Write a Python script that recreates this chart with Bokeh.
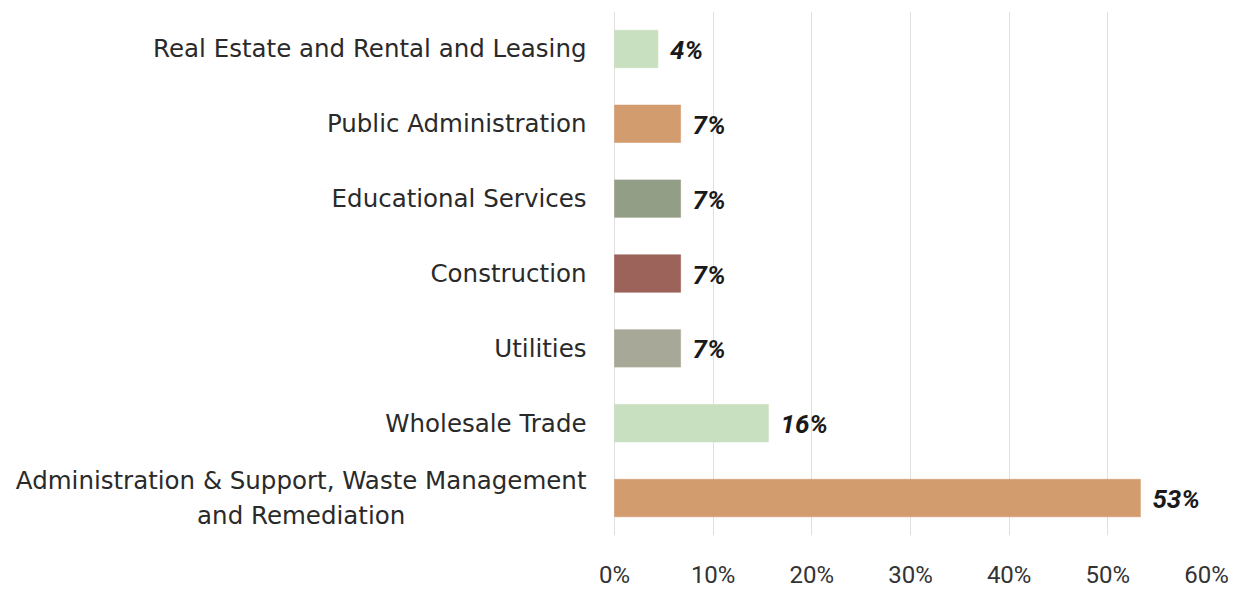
from bokeh.plotting import figure
from bokeh.models import ColumnDataSource, Range1d, FactorRange, FixedTicker
from bokeh.core.properties import value
from bokeh.embed import file_html
from bokeh.resources import INLINE

categories = [
    "Real Estate and Rental and Leasing",
    "Public Administration",
    "Educational Services",
    "Construction",
    "Utilities",
    "Wholesale Trade",
    "Administration & Support, Waste Management\nand Remediation",
]
shares = [4.4, 6.7, 6.7, 6.7, 6.7, 15.6, 53.3]
share_labels = ["4%", "7%", "7%", "7%", "7%", "16%", "53%"]
colors = ["#c8dfc0", "#d39c6f", "#929f86", "#9b6359", "#a8a898", "#c8dfc0", "#d39c6f"]
x_ticks = [0, 10, 20, 30, 40, 50, 60]
x_tick_labels = ["0%", "10%", "20%", "30%", "40%", "50%", "60%"]

src = ColumnDataSource(dict(cat=categories, share=shares, lab=share_labels, color=colors))

# frame spans the full width so the category labels (drawn as text glyphs) are not clipped;
# the x range start is chosen so that 0% sits 614px from the left edge
X_MAX = 60
LEFT_PX = 614
FRAME_RIGHT_PX = 1206
x_start = -LEFT_PX * X_MAX / (FRAME_RIGHT_PX - LEFT_PX)

p = figure(width=1236, height=591, output_backend="svg", toolbar_location=None,
           y_range=FactorRange(factors=categories[::-1]), x_range=Range1d(x_start, X_MAX),
           min_border_left=0, min_border_right=30, min_border_top=11, min_border_bottom=53)
p.outline_line_color = None
p.background_fill_color = "white"
p.border_fill_color = "white"

p.hbar(y="cat", left=0, right="share", height=0.5, fill_color="color",
       line_color="color", line_alpha=0.6, source=src)

p.text(x=0, y="cat", text="cat", source=src, x_offset=-28, anchor="center_right",
       text_align="center", text_baseline="middle", text_font=value("DejaVu Sans"),
       text_font_size="24.5px", text_color="#2a2a2a", text_line_height=1.2)

p.text(x="share", y="cat", text="lab", source=src, x_offset=12, y_offset=1, text_align="left",
       text_baseline="middle", text_font=value("Roboto"), text_font_style="bold italic",
       text_font_size="26px", text_color="#1a1a1a")

p.yaxis.visible = False
p.ygrid.visible = False

p.xgrid.grid_line_color = "#e0e0e0"
p.xgrid.grid_line_width = 1
p.xaxis.ticker = FixedTicker(ticks=x_ticks)
p.xaxis.major_label_overrides = {t: l for t, l in zip(x_ticks, x_tick_labels)}
p.xaxis.axis_line_color = None
p.xaxis.major_tick_line_color = None
p.xaxis.minor_tick_line_color = None
p.xaxis.major_label_standoff = 19
p.xaxis.major_label_text_font = "Roboto"
p.xaxis.major_label_text_font_size = "24px"
p.xaxis.major_label_text_color = "#333333"
p.xaxis.major_label_text_font_style = "normal"

open("out.html", "w").write(file_html(p, INLINE))
